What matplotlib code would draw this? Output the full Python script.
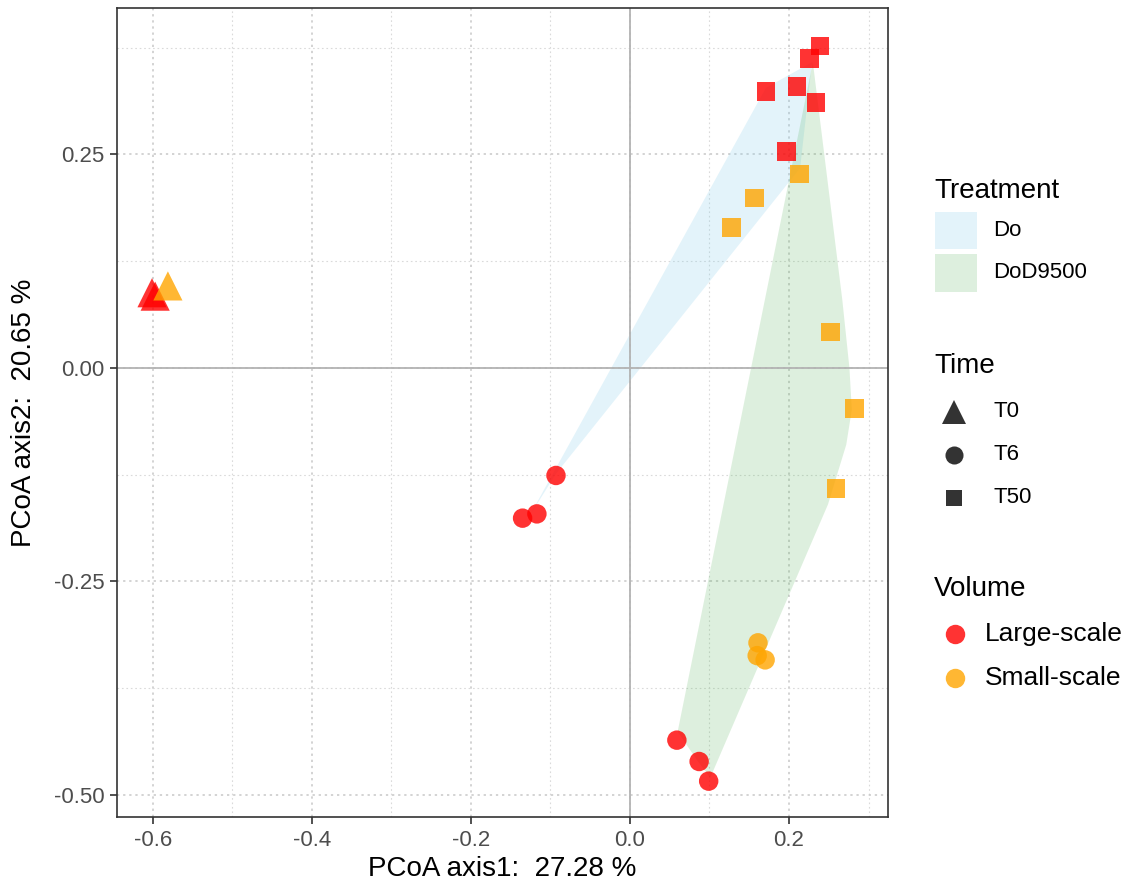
import matplotlib
matplotlib.use("Agg")
import matplotlib.pyplot as plt
from matplotlib.patches import Polygon, Rectangle
from matplotlib.lines import Line2D
import numpy as np

plt.rcParams['font.family'] = ['Liberation Sans', 'DejaVu Sans']

# PCoA coordinates
t0_large_x = [-0.601, -0.597]
t0_large_y = [0.088, 0.084]
t0_small_x = [-0.581]
t0_small_y = [0.096]

t6_large_x = [-0.093, -0.117, -0.135, 0.059, 0.087, 0.099]
t6_large_y = [-0.126, -0.171, -0.176, -0.436, -0.461, -0.484]
t6_small_x = [0.161, 0.160, 0.170]
t6_small_y = [-0.322, -0.337, -0.342]

t50_large_x = [0.171, 0.210, 0.226, 0.239, 0.234, 0.197]
t50_large_y = [0.324, 0.330, 0.362, 0.377, 0.311, 0.253]
t50_small_x = [0.213, 0.157, 0.128, 0.252, 0.282, 0.259]
t50_small_y = [0.227, 0.199, 0.164, 0.042, -0.048, -0.141]

# treatment hulls (outline as drawn)
hull_do_x = [-0.126, -0.093, 0.214, 0.229, 0.171]
hull_do_y = [-0.173, -0.124, 0.234, 0.358, 0.328]
hull_dod_x = [0.060, 0.084, 0.101, 0.249, 0.272, 0.279, 0.276, 0.267, 0.230]
hull_dod_y = [-0.426, -0.459, -0.480, -0.160, -0.090, -0.049, 0.000, 0.080, 0.358]

treatments = ['Do', 'DoD9500']
times = ['T0', 'T6', 'T50']
volumes = ['Large-scale', 'Small-scale']

x_ticks = [-0.6, -0.4, -0.2, 0.0, 0.2]
y_ticks = [-0.50, -0.25, 0.00, 0.25]

red = '#FF0000'
orange = '#FFA500'
fill_do = '#87CEEB'
fill_dod = '#4CAF50'

W, H = 1131, 886
fig = plt.figure(figsize=(W / 100, H / 100), dpi=100)
ax = fig.add_axes([117 / W, 1 - 817 / H, (888 - 117) / W, (817 - 8) / H])

ax.add_patch(Polygon(np.column_stack([hull_do_x, hull_do_y]), closed=True,
                     facecolor=fill_do, alpha=0.23, edgecolor='none', zorder=1))
ax.add_patch(Polygon(np.column_stack([hull_dod_x, hull_dod_y]), closed=True,
                     facecolor=fill_dod, alpha=0.19, edgecolor='none', zorder=1))

ax.axhline(0, color='#B3B3B3', lw=1.3, zorder=1.5)
ax.axvline(0, color='#B3B3B3', lw=1.3, zorder=1.5)

ms_tri, ms_circ, ms_sq = 21, 14, 13.5
pts = [
    (t0_large_x, t0_large_y, '^', red, ms_tri),
    (t0_small_x, t0_small_y, '^', orange, ms_tri),
    (t6_large_x, t6_large_y, 'o', red, ms_circ),
    (t6_small_x, t6_small_y, 'o', orange, ms_circ),
    (t50_large_x, t50_large_y, 's', red, ms_sq),
    (t50_small_x, t50_small_y, 's', orange, ms_sq),
]
for xs, ys, m, c, s in pts:
    ax.scatter(xs, ys, marker=m, s=s ** 2, color=c, alpha=0.8,
               edgecolors='none', zorder=3)

ax.set_xlim(-0.645, 0.3245)
ax.set_ylim(-0.526, 0.4215)
ax.set_xticks(x_ticks)
ax.set_xticklabels(['%.1f' % v for v in x_ticks])
ax.set_yticks(y_ticks)
ax.set_yticklabels(['%.2f' % v for v in y_ticks])
ax.set_xticks([-0.5, -0.3, -0.1, 0.1, 0.3], minor=True)
ax.set_yticks([-0.375, -0.125, 0.125, 0.375], minor=True)

ax.grid(which='major', color='#C8C8C8', linestyle=(0, (1.5, 2.5)), lw=1.1, zorder=0)
ax.grid(which='minor', color='#DADADA', linestyle=(0, (1.5, 2.5)), lw=0.8, zorder=0)
ax.set_axisbelow(True)
ax.tick_params(which='major', length=5, width=1.2, color='#333333',
               labelsize=16, labelcolor='#4D4D4D', pad=4)
ax.tick_params(which='minor', length=0)
for sp in ax.spines.values():
    sp.set_color('#333333')
    sp.set_linewidth(1.2)

ax.set_xlabel('PCoA axis1:  27.28 %', fontsize=20, labelpad=4)
ax.set_ylabel('PCoA axis2:  20.65 %', fontsize=20, labelpad=12)


# legends drawn in figure pixels
def fx(px):
    return px / W


def fy(py):
    return 1 - py / H


def title(px, py, s):
    fig.text(fx(px), fy(py), s, fontsize=20, ha='left', va='center')


def label(px, py, s, size=16):
    fig.text(fx(px), fy(py), s, fontsize=size, ha='left', va='center')


title(934, 191, 'Treatment')
for (name, col, a), (y0, y1) in zip([(treatments[0], fill_do, 0.23), (treatments[1], fill_dod, 0.19)],
                                    [(212, 249), (254, 292)]):
    fig.add_artist(Rectangle((fx(935), fy(y1)), fx(977) - fx(935), fy(y0) - fy(y1),
                             transform=fig.transFigure, facecolor=col, alpha=a,
                             edgecolor='none'))
    label(993, (y0 + y1) / 2, name)

title(934, 366, 'Time')
for name, m, s, py in zip(times, ['^', 'o', 's'], [17, 13, 12], [412, 455, 498]):
    fig.add_artist(Line2D([fx(954)], [fy(py)], marker=m, markersize=s, color='#333333',
                          linestyle='none', markeredgewidth=0, transform=fig.transFigure))
    label(993, py, name)

title(934, 589, 'Volume')
for name, col, py in zip(volumes, [red, orange], [634, 678]):
    fig.add_artist(Line2D([fx(955)], [fy(py)], marker='o', markersize=14, color=col,
                          alpha=0.8, linestyle='none', markeredgewidth=0,
                          transform=fig.transFigure))
    label(985, py, name, size=19)

fig.savefig('out.png', dpi=100)
